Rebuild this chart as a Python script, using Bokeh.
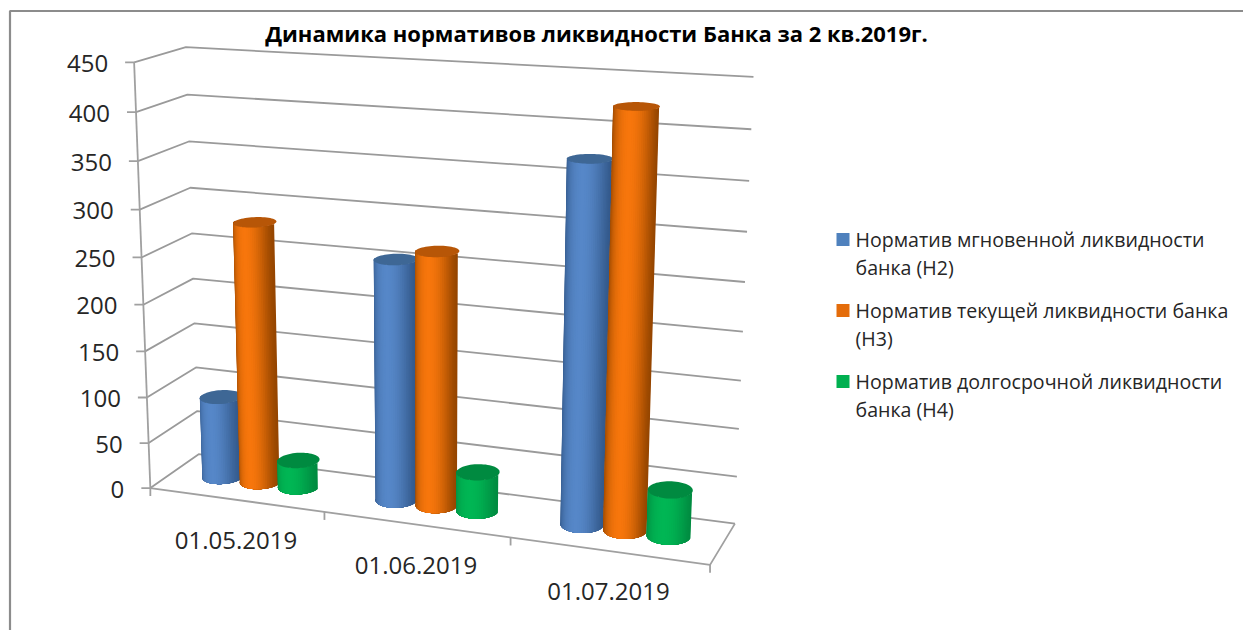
import numpy as np
from bokeh.embed import file_html
from bokeh.models import ColumnDataSource, Range1d
from bokeh.plotting import figure
from bokeh.resources import INLINE
from bokeh.core.properties import value

title = "Динамика нормативов ликвидности Банка за 2 кв.2019г."
categories = ["01.05.2019", "01.06.2019", "01.07.2019"]
h2 = [89, 256, 372]
h3 = [282, 268, 425]
h4 = [29, 41, 48]
value_ticks = [0, 50, 100, 150, 200, 250, 300, 350, 400, 450]
legend_lines = [["Норматив мгновенной ликвидности", "банка (Н2)"],
                ["Норматив текущей ликвидности банка", "(Н3)"],
                ["Норматив долгосрочной ликвидности", "банка (Н4)"]]
colors = ["#4f81bd", "#e46c0a", "#00b050"]
edge_colors = [(52, 90, 140), (150, 70, 0), (0, 140, 65)]
mid_colors = [(86, 135, 200), (247, 118, 12), (0, 182, 84)]
top_colors = ["#3e6795", "#b75607", "#008a40"]

W, H = 1243, 630
FONT = "Open Sans"
VMAX = value_ticks[-1]

# camera of the 3-D box: category position, depth, value -> page pixel
calib_world = [(0, 0, 0), (0, 0, VMAX), (0, 1, 0), (0, 1, VMAX), (3, 1, 0), (3, 1, VMAX),
               (3, 0, 0), (1, 0, 0), (2, 0, 0)]
calib_page = [(151, 488), (134, 61), (198, 453), (185, 47), (735, 523), (753, 77),
              (710, 563), (323, 512), (509, 538)]


def fit_camera():
    rows = []
    for (u, v, w), (x, y) in zip(calib_world, calib_page):
        q = [u, v, w / VMAX, 1]
        rows.append(q + [0, 0, 0, 0] + [-x * c for c in q])
        rows.append([0, 0, 0, 0] + q + [-y * c for c in q])
    return np.linalg.svd(np.array(rows, float))[2][-1].reshape(3, 4)


CAM = fit_camera()


def proj(u, v, w):
    u, v, w = np.broadcast_arrays(u, v, w)
    q = np.stack([u, v, w / VMAX, np.ones_like(u, dtype=float)])
    r = CAM @ q
    return r[0] / r[2], r[1] / r[2]


def pt(u, v, w):
    x, y = proj(np.array(float(u)), np.array(float(v)), np.array(float(w)))
    return float(x), float(y)


p = figure(width=W, height=H, output_backend="svg", toolbar_location=None,
           x_range=Range1d(0, W), y_range=Range1d(H, 0), min_border=0)
p.xaxis.visible = False
p.yaxis.visible = False
p.grid.visible = False
p.outline_line_color = None
p.background_fill_color = "white"
p.border_fill_color = "white"

# chart frame
p.line([9.5, 9.5, W], [H, 10.5, 10.5], line_color="#8c8c8c", line_width=2.2)

# gridlines on the side and back walls
gx, gy = [], []
for t in value_ticks:
    a, b, c = pt(0, 0, t), pt(0, 1, t), pt(3, 1, t)
    gx.append([a[0], b[0], c[0]])
    gy.append([a[1], b[1], c[1]])
p.multi_line(gx, gy, line_color="#9a9a9a", line_width=1.8)

# axes and ticks
ax, ay = [], []
f0, f1, fr, br = pt(0, 0, 0), pt(0, 0, VMAX), pt(3, 0, 0), pt(3, 1, 0)
ax.append([f1[0], f0[0]]); ay.append([f1[1], f0[1]])
ax.append([f0[0], fr[0], br[0]]); ay.append([f0[1], fr[1], br[1]])
for t in value_ticks:
    a = pt(0, 0, t)
    ax.append([a[0] - 9, a[0]]); ay.append([a[1], a[1]])
for i in range(len(categories) + 1):
    a = pt(i, 0, 0)
    ax.append([a[0], a[0]]); ay.append([a[1], a[1] + 8])
p.multi_line(ax, ay, line_color="#a0a0a0", line_width=1.8)

# cylinders: nested shells from the dark rim to the bright middle
R_U, R_V = 0.109, 0.215
SPACING = 0.222
CENTRE = 0.505
DEPTH = 0.52
SHELLS = 18
ARC = 32


def mix(c1, c2, f):
    return "#%02x%02x%02x" % tuple(int(round(a + (b - a) * f)) for a, b in zip(c1, c2))


def cylinder(cu, val, s):
    xs, ys, fc = [], [], []
    for k in range(SHELLS):
        d = k / SHELLS * np.pi / 2
        th = np.linspace(np.pi + d, 2 * np.pi - d, ARC)
        u = cu + R_U * np.cos(th)
        v = DEPTH + R_V * np.sin(th)
        xb, yb = proj(u, v, np.zeros_like(u))
        xt, yt = proj(u, v, np.full_like(u, float(val)))
        xs.append(np.concatenate([xb, xt[::-1]]))
        ys.append(np.concatenate([yb, yt[::-1]]))
        fc.append(mix(edge_colors[s], mid_colors[s], 1 - abs(np.cos(d)) ** 2.2))
    p.patches("x", "y", source=ColumnDataSource(dict(x=xs, y=ys, c=fc)),
              fill_color="c", line_color=None)
    ring = np.linspace(0, 2 * np.pi, 61)
    xr, yr = proj(cu + R_U * np.cos(ring), DEPTH + R_V * np.sin(ring), np.full_like(ring, float(val)))
    p.patch(xr, yr, fill_color=top_colors[s], line_color=None)


for i in range(len(categories)):
    for s, series in enumerate([h2, h3, h4]):
        cylinder(i + CENTRE + (s - 1) * SPACING, series[i], s)

# value labels
tx, ty = [], []
for t in value_ticks:
    a = pt(0, 0, t)
    tx.append(a[0] - 26)
    ty.append(a[1] + 1)
p.text(tx, ty, text=[str(t) for t in value_ticks], text_align="right", text_baseline="middle",
       text_font=value(FONT), text_font_size="24px", text_color="#262626")

# category labels
cx, cy = [], []
for i in range(len(categories)):
    a = pt(i + 0.5, 0, 0)
    cx.append(a[0])
    cy.append(a[1] + 41)
p.text(cx, cy, text=categories, text_align="center", text_baseline="middle",
       text_font=value(FONT), text_font_size="24px", text_color="#262626")

# title
p.text([596], [32], text=[title], text_align="center", text_baseline="middle",
       text_font=value(FONT), text_font_style="bold", text_font_size="22px", text_color="#000000")

# legend
legend_y = [239, 310, 381]
for s, lines in enumerate(legend_lines):
    y0 = legend_y[s]
    p.rect([842.5], [y0], width=13, height=13, fill_color=colors[s], line_color=None)
    p.text([855, 855], [y0, y0 + 28], text=lines, text_align="left", text_baseline="middle",
           text_font=value(FONT), text_font_size="19.6px", text_color="#262626")

open("out.html", "w").write(file_html(p, INLINE))
